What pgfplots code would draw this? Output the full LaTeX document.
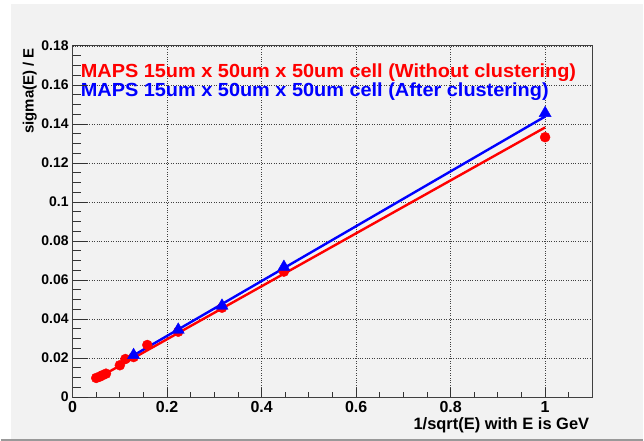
\documentclass[border=0pt]{standalone}
\usepackage{fontspec}
\setmainfont{Liberation Sans}
\newfontfamily\legendfont[FakeStretch=1.05]{Liberation Sans}
\usepackage{pgfplots}
\pgfplotsset{compat=1.18}
\definecolor{canvas}{RGB}{242,242,242}
\definecolor{rootred}{RGB}{255,0,0}
\definecolor{rootblue}{RGB}{0,0,255}
\begin{document}
\begin{tikzpicture}[x=1pt,y=1pt]
    % canvas
    \fill[white] (0,0) rectangle (644,442);
    \fill[canvas] (10,1.5) rectangle (644,438);
    \draw[black!40, line width=1.5pt] (0,0.75) -- (644,0.75);

    \pgfplotsset{
        every axis/.style={
            at={(72pt,44pt)}, anchor=south west,
            scale only axis, width=521pt, height=352pt,
            xmin=0, xmax=1.1, ymin=0, ymax=0.18,
            tick pos=left, tick align=inside,
            scaled ticks=false,
            xtick={0,0.2,0.4,0.6,0.8,1},
            minor xtick={0.05,0.1,0.15,0.25,0.3,0.35,0.45,0.5,0.55,0.65,0.7,0.75,0.85,0.9,0.95,1.05},
            ytick={0,0.02,0.04,0.06,0.08,0.1,0.12,0.14,0.16,0.18},
            minor ytick={0.005,0.01,0.015,0.025,0.03,0.035,0.045,0.05,0.055,0.065,0.07,0.075,0.085,0.09,0.095,0.105,0.11,0.115,0.125,0.13,0.135,0.145,0.15,0.155,0.165,0.17,0.175},
            tick style={black!80, line width=0.8pt},
        }
    }

    \begin{axis}[
        axis background/.style={fill=canvas},
        axis line style={black!75, line width=1pt},
        major tick length=9pt, minor tick length=5pt,
        ytick style={draw=none},
        yticklabels={},
        xticklabels={0,0.2,0.4,0.6,0.8,1},
        xticklabel style={font=\bfseries\fontsize{16}{16}\selectfont, yshift=-1pt},
        grid=major,
        major grid style={black!75, dotted, line width=0.6pt},
    ]
        % without clustering
        \addplot[only marks, mark=*, rootred, mark size=5pt] coordinates {
            (0.0500, 0.0098)
            (0.0577, 0.0105)
            (0.0632, 0.0112)
            (0.0707, 0.0120)
            (0.1000, 0.0163)
            (0.1118, 0.0195)
            (0.1291, 0.0205)
            (0.1581, 0.0267)
            (0.2236, 0.0335)
            (0.3162, 0.0458)
            (0.4472, 0.0643)
            (1.0000, 0.1332)
        };
        \addplot[rootred, line width=2.4pt, no marks] coordinates {
            (0.05, 0.0093) (1, 0.1382)
        };
        % after clustering
        \addplot[only marks, mark=triangle*, rootblue, mark size=7pt] coordinates {
            (0.1291, 0.0215)
            (0.2236, 0.0345)
            (0.3162, 0.0468)
            (0.4472, 0.0667)
            (1.0000, 0.1455)
        };
        \addplot[rootblue, line width=2.4pt, no marks] coordinates {
            (0.1291, 0.0214) (1, 0.1438)
        };

        \node[anchor=base west, inner sep=0, text=rootred,
              font=\legendfont\bfseries\fontsize{19}{19}\selectfont]
            at (axis cs:0.017,0.1638) {MAPS 15um x 50um x 50um cell (Without clustering)};
        \node[anchor=base west, inner sep=0, text=rootblue,
              font=\legendfont\bfseries\fontsize{19}{19}\selectfont]
            at (axis cs:0.017,0.1543) {MAPS 15um x 50um x 50um cell (After clustering)};
    \end{axis}

    % y ticks are longer than x ticks
    \begin{axis}[
        hide x axis,
        axis line style={draw=none},
        major tick length=15pt, minor tick length=8pt,
        yticklabels={0,0.02,0.04,0.06,0.08,0.1,0.12,0.14,0.16,0.18},
        yticklabel style={font=\bfseries\fontsize{14}{14}\selectfont, xshift=-0.5pt},
    ]
    \end{axis}

    % axis titles
    \node[anchor=base east, inner sep=0, font=\bfseries\fontsize{16.5}{16.5}\selectfont]
        at (590,11) {1/sqrt(E) with E is GeV};
    \node[rotate=90, anchor=base east, inner sep=0, font=\bfseries\fontsize{15}{15}\selectfont]
        at (33,394) {sigma(E) / E};
\end{tikzpicture}
\end{document}
